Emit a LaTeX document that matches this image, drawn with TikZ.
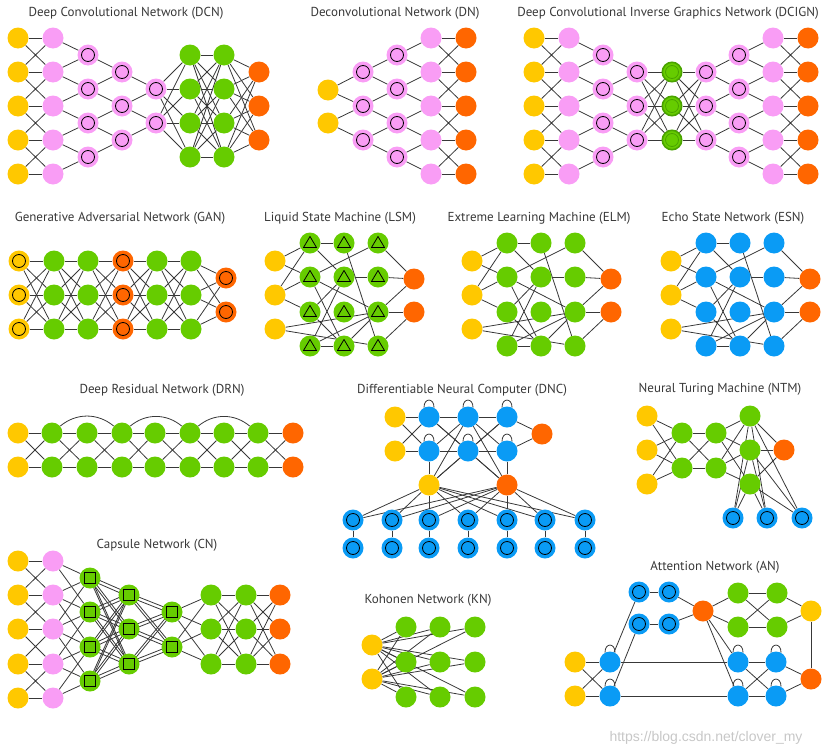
\documentclass[tikz,border=0pt]{standalone}
\usepackage{fontspec}
\setmainfont{PT Sans}
\newfontfamily\wmfont{Liberation Sans}
\usetikzlibrary{backgrounds}
\definecolor{cyel}{HTML}{FFC800}
\definecolor{cpnk}{HTML}{F99DF5}
\definecolor{cgrn}{HTML}{66CC00}
\definecolor{cgrnd}{HTML}{4AA300}
\definecolor{corg}{HTML}{FF6600}
\definecolor{cblu}{HTML}{0A9BF5}
\definecolor{clnk}{HTML}{383838}

% every node of the shorter column #1 goes to two of #2
\newcommand{\fannet}[3]{\foreach \k [count=\i] in {2,...,#3}{\draw[lk] (#1\i) -- (#2\i) (#1\i) -- (#2\k);}}
% same row and the rows next to it
\newcommand{\zignet}[3]{%
  \foreach \i in {1,...,#3}{\draw[lk] (#1\i) -- (#2\i);}%
  \foreach \k [count=\i] in {2,...,#3}{\draw[lk] (#1\i) -- (#2\k) (#1\k) -- (#2\i);}}
% all to all
\newcommand{\fullnet}[4]{\foreach \i in {1,...,#2}{\foreach \j in {1,...,#4}{\draw[lk] (#1\i) -- (#3\j);}}}
% all to all, two strands per pair (capsules)
\newcommand{\twinnet}[4]{\foreach \i in {1,...,#2}{\foreach \j in {1,...,#4}{
  \draw[lk] ([yshift=1.8pt]#1\i.center) -- ([yshift=1.8pt]#3\j.center)
            ([yshift=-1.8pt]#1\i.center) -- ([yshift=-1.8pt]#3\j.center);}}}
% small arch on top of a node
\newcommand{\selfloop}[1]{\draw[lk] (#1.118) .. controls +(0pt,10pt) and +(0pt,10pt) .. (#1.62);}
% LSM, ELM and ESN share one random reservoir
\newcommand{\reservoir}[3]{%
  \foreach \r/\y in {1/261,2/295,3/329}{\node[yel] (#1I\r) at (275+#2,\y) {};}
  \foreach \c/\x in {P/310,Q/344,R/378}{
    \foreach \r/\y in {1/243,2/277,3/312,4/346}{\node[#3] (#1\c\r) at (\x+#2,\y) {};}
  }
  \node[org] (#1O1) at (414+#2,279) {};
  \node[org] (#1O2) at (414+#2,312) {};
  \begin{scope}[on background layer]
    \foreach \a/\b in {I1/P1,I1/P2,I2/P1,I2/P2,I2/P3,I3/R3,I3/R4,
        P1/Q1,P1/Q2,Q1/R4,R1/P2,R1/O1,P2/R3,P2/Q4,Q2/R2,R2/O1,
        R3/O1,R3/O2,R4/O2,P4/Q4,P4/R3,P3/Q4,P3/Q2,Q2/P4,Q4/R3}{
      \draw[lk] (#1\a) -- (#1\b);
    }
  \end{scope}}

\begin{document}
\begin{tikzpicture}[x=1pt,y=-1pt,
    nd/.style={circle,inner sep=0pt,minimum size=21pt},
    yel/.style={nd,fill=cyel},
    pnk/.style={nd,fill=cpnk},
    grn/.style={nd,fill=cgrn},
    org/.style={nd,fill=corg},
    blu/.style={nd,fill=cblu},
    ring/.style={path picture={\draw[line width=0.8pt] (path picture bounding box.center) circle[radius=6.5pt];}},
    tri/.style={path picture={\draw[line width=0.8pt,line join=round]
      ([shift={(-6.5pt,-4.5pt)}]path picture bounding box.center) -- ++(13pt,0pt) -- ++(-6.5pt,11pt) -- cycle;}},
    sq/.style={path picture={\draw[line width=0.8pt]
      ([shift={(-5.5pt,-5.5pt)}]path picture bounding box.center) rectangle ++(11pt,11pt);}},
    lk/.style={draw=clnk,line width=0.8pt},
    ttl/.style={font=\fontsize{13}{15}\selectfont,text=black!78,inner sep=0pt}]
  \useasboundingbox (0,0) rectangle (830,755);
  %-------------------------------------------------- DCN
  \node[ttl] (dcnT) at (126,13) {Deep Convolutional Network (DCN)};
  \foreach \r/\y in {1/38,2/72,3/106,4/140,5/174}{
    \node[yel] (dcnA\r) at (18,\y) {};
    \node[pnk] (dcnB\r) at (53,\y) {};
  }
  \foreach \r/\y in {1/55,2/89,3/123,4/157}{
    \node[pnk,ring] (dcnC\r) at (88,\y) {};
    \node[grn] (dcnF\r) at (190,\y) {};
    \node[grn] (dcnG\r) at (224,\y) {};
  }
  \foreach \r/\y in {1/72,2/106,3/140}{
    \node[pnk,ring] (dcnD\r) at (122,\y) {};
    \node[org] (dcnH\r) at (259,\y) {};
  }
  \foreach \r/\y in {1/89,2/123}{\node[pnk,ring] (dcnE\r) at (156,\y) {};}
  \begin{scope}[on background layer]
    \zignet{dcnA}{dcnB}{5}
    \fannet{dcnC}{dcnB}{5}
    \fannet{dcnD}{dcnC}{4}
    \fannet{dcnE}{dcnD}{3}
    \fullnet{dcnE}{2}{dcnF}{4}
    \fullnet{dcnF}{4}{dcnG}{4}
    \fullnet{dcnG}{4}{dcnH}{3}
  \end{scope}
  %-------------------------------------------------- DN
  \node[ttl] (dnT) at (395,13) {Deconvolutional Network (DN)};
  \node[yel] (dnA1) at (328,90) {};
  \node[yel] (dnA2) at (328,123) {};
  \foreach \r/\y in {1/72,2/106,3/140}{\node[pnk,ring] (dnB\r) at (363,\y) {};}
  \foreach \r/\y in {1/55,2/89,3/123,4/157}{\node[pnk,ring] (dnC\r) at (397,\y) {};}
  \foreach \r/\y in {1/38,2/72,3/106,4/140,5/174}{
    \node[pnk] (dnD\r) at (431,\y) {};
    \node[org] (dnE\r) at (466,\y) {};
  }
  \begin{scope}[on background layer]
    \fannet{dnA}{dnB}{3}
    \fannet{dnB}{dnC}{4}
    \fannet{dnC}{dnD}{5}
    \zignet{dnD}{dnE}{5}
  \end{scope}
  %-------------------------------------------------- DCIGN
  \node[ttl] (dciT) at (668,13) {Deep Convolutional Inverse Graphics Network (DCIGN)};
  \foreach \r/\y in {1/38,2/72,3/106,4/140,5/174}{
    \node[yel] (dciA\r) at (534,\y) {};
    \node[pnk] (dciB\r) at (569,\y) {};
    \node[pnk] (dciH\r) at (773,\y) {};
    \node[org] (dciI\r) at (808,\y) {};
  }
  \foreach \r/\y in {1/55,2/89,3/123,4/157}{
    \node[pnk,ring] (dciC\r) at (603,\y) {};
    \node[pnk,ring] (dciG\r) at (739,\y) {};
  }
  \foreach \r/\y in {1/72,2/106,3/140}{
    \node[pnk,ring] (dciD\r) at (637,\y) {};
    \node[grn,ring,draw=cgrnd,line width=1.6pt,minimum size=19.4pt] (dciE\r) at (672,\y) {};
    \node[pnk,ring] (dciF\r) at (706,\y) {};
  }
  \begin{scope}[on background layer]
    \zignet{dciA}{dciB}{5}
    \fannet{dciC}{dciB}{5}
    \fannet{dciD}{dciC}{4}
    \fullnet{dciD}{3}{dciE}{3}
    \fullnet{dciE}{3}{dciF}{3}
    \fannet{dciF}{dciG}{4}
    \fannet{dciG}{dciH}{5}
    \zignet{dciH}{dciI}{5}
  \end{scope}
  %-------------------------------------------------- GAN
  \node[ttl] (ganT) at (120,218) {Generative Adversarial Network (GAN)};
  \foreach \r/\y in {1/261,2/295,3/329}{
    \node[yel,ring] (ganA\r) at (19,\y) {};
    \node[grn] (ganB\r) at (54,\y) {};
    \node[grn] (ganC\r) at (88,\y) {};
    \node[org,ring] (ganD\r) at (123,\y) {};
    \node[grn] (ganE\r) at (157,\y) {};
    \node[grn] (ganF\r) at (191,\y) {};
  }
  \node[org,ring] (ganG1) at (226,278) {};
  \node[org,ring] (ganG2) at (226,312) {};
  \begin{scope}[on background layer]
    \foreach \a/\b in {A/B,B/C,C/D,D/E,E/F}{\fullnet{gan\a}{3}{gan\b}{3}}
    \fullnet{ganF}{3}{ganG}{2}
  \end{scope}
  %-------------------------------------------------- LSM, ELM, ESN
  \node[ttl] (lsmT) at (340,218) {Liquid State Machine (LSM)};
  \node[ttl] (elmT) at (539,218) {Extreme Learning Machine (ELM)};
  \node[ttl] (esnT) at (733,218) {Echo State Network (ESN)};
  \reservoir{lsm}{0}{grn,tri}
  \reservoir{elm}{197}{grn}
  \reservoir{esn}{396}{blu}
  %-------------------------------------------------- DRN
  \node[ttl] (drnT) at (162,390) {Deep Residual Network (DRN)};
  \foreach \c/\x/\s in {A/18/yel,B/52/grn,C/87/grn,D/122/grn,E/155/grn,
                        F/190/grn,G/224/grn,H/258/grn,I/293/org}{
    \node[\s] (drn\c1) at (\x,433) {};
    \node[\s] (drn\c2) at (\x,467) {};
  }
  \begin{scope}[on background layer]
    \foreach \a/\b in {A/B,B/C,C/D,D/E,E/F,F/G,G/H,H/I}{\fullnet{drn\a}{2}{drn\b}{2}}
    \draw[lk] (drnB1) to[out=40,in=140] (drnD1);
    \draw[lk] (drnD1) to[out=40,in=140] (drnF1);
    \draw[lk] (drnF1) to[out=40,in=140] (drnH1);
  \end{scope}
  %-------------------------------------------------- DNC
  \node[ttl] (dncT) at (462,390) {Differentiable Neural Computer (DNC)};
  \node[yel] (dncI1) at (395,417) {};
  \node[yel] (dncI2) at (395,451) {};
  \foreach \c/\x in {1/429,2/468,3/507}{
    \node[blu] (dncA\c) at (\x,417) {};
    \node[blu] (dncB\c) at (\x,451) {};
  }
  \node[org] (dncO) at (542,434) {};
  \node[yel] (dncR) at (429,485) {};
  \node[org] (dncW) at (507,485) {};
  \foreach \c/\x in {1/353,2/392,3/429,4/468,5/507,6/545,7/585}{
    \node[blu,ring] (dncM\c) at (\x,520) {};
    \node[blu,ring] (dncN\c) at (\x,548) {};
  }
  \begin{scope}[on background layer]
    \foreach \a/\b in {I1/A1,I2/B1,I1/B1,I2/A1,A1/A2,A2/A3,B1/B2,B2/B3,
        A1/B2,B1/A2,A2/B3,B2/A3,A3/O,B3/O,B1/R,B3/W,
        R/A2,R/A3,R/B2,W/A1,W/A2,W/B2}{
      \draw[lk] (dnc\a) -- (dnc\b);
    }
    \foreach \c in {1,...,7}{
      \draw[lk] (dncR) -- (dncM\c);
      \draw[lk] (dncW) -- (dncM\c);
      \draw[lk] (dncM\c) -- (dncN\c);
    }
    \foreach \c in {1,2,3}{
      \selfloop{dncA\c}
      \selfloop{dncB\c}
    }
  \end{scope}
  %-------------------------------------------------- NTM
  \node[ttl] (ntmT) at (720,389) {Neural Turing Machine (NTM)};
  \foreach \r/\y in {1/416,2/450,3/484}{
    \node[yel] (ntmI\r) at (647,\y) {};
    \node[grn] (ntmC\r) at (750,\y) {};
  }
  \foreach \r/\y in {1/433,2/468}{
    \node[grn] (ntmA\r) at (682,\y) {};
    \node[grn] (ntmB\r) at (716,\y) {};
  }
  \node[org] (ntmO) at (784,450) {};
  \foreach \r/\x in {1/733,2/767,3/802}{\node[blu,ring] (ntmM\r) at (\x,518) {};}
  \begin{scope}[on background layer]
    \fullnet{ntmI}{3}{ntmA}{2}
    \fullnet{ntmA}{2}{ntmB}{2}
    \fullnet{ntmB}{2}{ntmC}{3}
    \foreach \r in {1,2,3}{\draw[lk] (ntmC\r) -- (ntmO);}
    \fullnet{ntmC}{3}{ntmM}{3}
  \end{scope}
  %-------------------------------------------------- CN
  \node[ttl] (cnT) at (157,545) {Capsule Network (CN)};
  \foreach \r/\y in {1/561,2/595,3/629,4/664,5/698}{
    \node[yel] (cnA\r) at (18,\y) {};
    \node[pnk] (cnB\r) at (53,\y) {};
  }
  \foreach \r/\y in {1/578,2/612,3/647,4/681}{\node[grn,sq] (cnC\r) at (90,\y) {};}
  \foreach \r/\y in {1/595,2/629,3/664}{
    \node[grn,sq] (cnD\r) at (129,\y) {};
    \node[grn] (cnF\r) at (211,\y) {};
    \node[grn] (cnG\r) at (246,\y) {};
    \node[org] (cnH\r) at (280,\y) {};
  }
  \foreach \r/\y in {1/612,2/647}{\node[grn,sq] (cnE\r) at (172,\y) {};}
  \begin{scope}[on background layer]
    \zignet{cnA}{cnB}{5}
    \fannet{cnC}{cnB}{5}
    \foreach \a/\b in {B1/C2,B3/C1,B4/C2,B2/C3,B5/C3,B3/C4}{\draw[lk] (cn\a) -- (cn\b);}
    \twinnet{cnC}{4}{cnD}{3}
    \twinnet{cnD}{3}{cnE}{2}
    \fullnet{cnE}{2}{cnF}{3}
    \fullnet{cnF}{3}{cnG}{3}
    \fullnet{cnG}{3}{cnH}{3}
  \end{scope}
  %-------------------------------------------------- KN
  \node[ttl] (knT) at (428,600) {Kohonen Network (KN)};
  \node[yel] (knI1) at (372,645) {};
  \node[yel] (knI2) at (372,679) {};
  \foreach \c/\x in {0/406,1/440,2/475}{
    \foreach \r/\y in {1/627,2/662,3/697}{
      \pgfmathtruncatemacro\n{3*\c+\r}
      \node[grn] (knG\n) at (\x,\y) {};
    }
  }
  \begin{scope}[on background layer]
    \fullnet{knI}{2}{knG}{9}
  \end{scope}
  %-------------------------------------------------- AN
  \node[ttl] (anT) at (715,567) {Attention Network (AN)};
  \node[blu,ring] (anT1) at (639,592) {};
  \node[blu,ring] (anT2) at (669,592) {};
  \node[blu,ring] (anU1) at (639,624) {};
  \node[blu,ring] (anU2) at (669,624) {};
  \node[org] (anX) at (703,611) {};
  \node[grn] (anG1) at (738,593) {};
  \node[grn] (anG2) at (777,593) {};
  \node[grn] (anH1) at (738,627) {};
  \node[grn] (anH2) at (777,627) {};
  \node[yel] (anY) at (811,611) {};
  \node[yel] (anI1) at (575,662) {};
  \node[yel] (anI2) at (575,696) {};
  \node[blu] (anB1) at (610,662) {};
  \node[blu] (anB2) at (610,696) {};
  \node[blu] (anC1) at (738,662) {};
  \node[blu] (anC2) at (738,696) {};
  \node[blu] (anD1) at (776,662) {};
  \node[blu] (anD2) at (776,696) {};
  \node[org] (anO) at (811,679) {};
  \begin{scope}[on background layer]
    \foreach \a/\b in {T1/T2,U1/U2,T2/X,U2/X,X/G1,X/H1,G1/G2,H1/H2,G1/H2,H1/G2,
        G2/Y,H2/Y,Y/O,I1/B1,I2/B2,I1/B2,I2/B1,B1/C1,B2/C2,C1/D1,C2/D2,
        C1/D2,C2/D1,D1/O,D2/O,B1/T1,B2/U1,X/C1,X/C2}{
      \draw[lk] (an\a) -- (an\b);
    }
    \foreach \a in {B1,B2,C1,C2,D1,D2}{\selfloop{an\a}}
  \end{scope}
  %-------------------------------------------------- watermark
  \node[font=\wmfont\fontsize{14}{16}\selectfont,text=black!22,inner sep=0pt]
    (wm) at (706,738) {https://blog.csdn.net/clover\_my};
\end{tikzpicture}
\end{document}
